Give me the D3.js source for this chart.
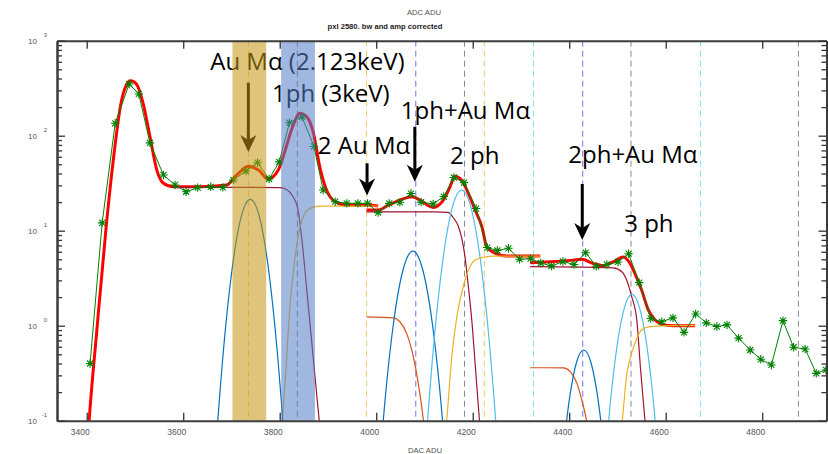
<!DOCTYPE html>
<html>
<head>
<meta charset="utf-8">
<script src="https://cdn.jsdelivr.net/npm/d3@7"></script>
<style>
body { margin: 0; background: #fff; }
svg { display: block; }
</style>
</head>
<body>
<script>
// pxl 2580 spectrum, log counts vs DAC, with piecewise fit and components

// axis ticks
var dacTicks = [3400, 3600, 3800, 4000, 4200, 4400, 4600, 4800];
var decades = [-1, 0, 1, 2, 3];
var minorMult = [2, 3, 4, 5, 6, 7, 8, 9];

// measured points (green stars)
var dataDac = [3407, 3432, 3459, 3488, 3508, 3531, 3559, 3583, 3606, 3630,
    3657, 3682, 3704, 3730, 3754, 3778, 3799, 3820, 3846, 3871, 3890, 3915,
    3939, 3962, 3982, 4004, 4027, 4049, 4072, 4093, 4118, 4140, 4161, 4182,
    4207, 4230, 4251, 4274, 4297, 4320, 4341, 4363, 4387, 4410, 4434, 4456,
    4478, 4501, 4523, 4545, 4569, 4592, 4615, 4638, 4662, 4684, 4706, 4727,
    4751, 4775, 4797, 4819, 4843, 4865, 4889, 4912, 4932];
var dataCounts = [0.40, 12.1, 135, 350, 275, 84, 38.6, 30.3, 25.7, 28.4,
    29.0, 28.6, 34.2, 42.5, 52, 35, 53, 137, 158, 77, 26.8, 20.2,
    19.4, 19.4, 19.4, 15.5, 19.4, 19.9, 24.6, 20.0, 19.1, 22.9, 36.3, 32.1,
    17.1, 6.65, 6.19, 6.53, 5.01, 5.07, 4.57, 4.25, 4.74, 4.41, 5.87, 4.22,
    4.41, 4.69, 5.73, 2.84, 1.19, 1.10, 1.21, 0.85, 1.33, 1.07, 0.98, 1.02,
    0.74, 0.555, 0.443, 0.386, 1.13, 0.593, 0.568, 0.315, 0.342];

// total fit, three pieces (red)
var fit1 = [[3401, 0.05], [3405, 0.1], [3421, 0.9], [3441, 12], [3455, 55],
    [3471, 220], [3482, 340], [3491, 378], [3503, 350], [3517, 218],
    [3531, 98], [3545, 44], [3559, 31.6], [3580, 29], [3635, 29],
    [3690, 30.3], [3711, 38.6], [3735, 47.7], [3756, 43.5], [3776, 35],
    [3797, 43.5], [3807, 60], [3828, 129], [3841, 172], [3856, 158],
    [3870, 106], [3883, 47], [3897, 26.8], [3915, 20.2], [3939, 18.6],
    [3980, 18.6], [4004, 18.2]];
var fit2 = [[3980, 16.5], [4004, 16.5], [4025, 18.6], [4049, 21], [4074, 22.8],
    [4091, 21], [4118, 17.6], [4139, 21], [4153, 29], [4163, 37.5],
    [4177, 34], [4191, 24.7], [4205, 16.5], [4219, 11], [4229, 6.8],
    [4246, 5.8], [4270, 5.4], [4340, 5.4]];
var fit3 = [[4319, 4.6], [4360, 4.7], [4408, 4.9], [4426, 5.0], [4450, 4.5],
    [4471, 4.3], [4491, 4.7], [4512, 5.3], [4524, 4.7], [4536, 3.56],
    [4550, 2.37], [4564, 1.46], [4578, 1.15], [4592, 1.04], [4616, 1.0],
    [4661, 1.0]];

// gaussian components
var gAuMa = [[3664, 0.03], [3684, 0.6], [3699, 3.2], [3719, 13.3], [3739, 21.4],
    [3759, 13.3], [3779, 3.2], [3794, 0.6], [3814, 0.03]];
var g1phAuMa = [[4006, 0.03], [4021, 0.23], [4036, 1.08], [4056, 3.95],
    [4076, 6.1], [4096, 3.95], [4116, 1.08], [4131, 0.23], [4146, 0.03]];
var g2ph = [[4097, 0.021], [4107, 0.11], [4122, 0.91], [4137, 4.48],
    [4157, 17.1], [4177, 26.8], [4197, 17.1], [4217, 4.48], [4232, 0.91],
    [4247, 0.11], [4257, 0.021]];
var g2phAuMa = [[4385, 0.036], [4400, 0.164], [4415, 0.41], [4430, 0.555],
    [4445, 0.41], [4460, 0.164], [4475, 0.036]];
var g3ph = [[4475, 0.04], [4485, 0.15], [4500, 0.66], [4515, 1.59],
    [4530, 2.14], [4545, 1.59], [4560, 0.66], [4575, 0.15], [4585, 0.04]];

// step (erfc) components
var step1 = [[3575, 28.6], [3700, 28.6], [3800, 28.4], [3815, 27],
    [3826, 23.5], [3837, 17.5], [3846, 8], [3856, 2.4], [3866, 0.7],
    [3877, 0.18], [3882, 0.1], [3890, 0.04]];
var rise1 = [[3798, 0.05], [3805, 0.1], [3814.5, 0.47], [3821, 1.58],
    [3832, 5.3], [3842, 11], [3852, 15.2], [3863, 17.2], [3883, 18.1],
    [4004, 18.2]];
var step2 = [[3980, 15.8], [4120, 15.8], [4149, 15.6], [4160, 13.6],
    [4170, 11.2], [4178, 8.0], [4184, 5.3], [4191, 2.57], [4198, 1.15],
    [4206, 0.34], [4214, 0.1], [4219, 0.05]];
var small2 = [[3980, 1.24], [4035, 1.21], [4049, 1.1], [4063, 0.83],
    [4077, 0.47], [4087, 0.25], [4098, 0.1], [4105, 0.05]];
var rise2 = [[4140, 0.05], [4146, 0.1], [4156.5, 0.47], [4167, 1.24],
    [4184, 3.03], [4204, 4.9], [4222, 5.25], [4243, 5.4], [4340, 5.4]];
var step3 = [[4319, 4.18], [4491, 4.07], [4509, 3.7], [4519, 3.03],
    [4529.5, 2.02], [4540, 1.15], [4548, 0.34], [4557, 0.1], [4563, 0.05]];
var small3 = [[4319, 0.361], [4388, 0.36], [4402, 0.328], [4416, 0.247],
    [4426, 0.165], [4436, 0.1], [4445, 0.05]];
var rise3 = [[4504, 0.05], [4510, 0.1], [4519, 0.3], [4526, 0.45],
    [4536, 0.65], [4550, 0.9], [4567, 0.98], [4616, 1.0], [4661, 1.0]];

// dashed peak markers
var markerDac = [3735, 3836.5, 3980, 4082, 4183, 4224, 4326, 4428, 4528,
    4672, 4875];
var markerKind = ["y", "k", "y", "b", "k", "y", "c", "b", "k", "c", "k"];

// shaded energy windows
var bandDac = [[3702, 3772], [3803, 3873]];

// annotations
var noteText = ["Au M\u03b1 (2.123keV)", "1ph (3keV)", "2 Au M\u03b1",
    "1ph+Au M\u03b1", "2 ph", "2ph+Au M\u03b1", "3 ph"];
var noteDac = [3656, 3784, 3879, 4051, 4153, 4398, 4514];
var noteVal = [491, 226, 64.2, 150, 50.4, 51.6, 9.69];
var arrowDac = [3735, 3981, 4080, 4427];
var arrowTop = [361, 51.2, 124, 31];
var arrowTip = [67.3, 23.5, 32.8, 7.98];

var W = 828, H = 454;
var L = 57, R = 826.5, T = 40.7, B = 420.7;

var x = d3.scaleLinear().domain([3338.4, 4933.2]).range([L, R]);
var y = d3.scaleLog().domain([0.1, 1000]).range([B, T]);

var svg = d3.select("body").append("svg")
    .attr("width", W)
    .attr("height", H);
svg.append("rect").attr("width", W).attr("height", H).attr("fill", "#fff");

svg.append("clipPath").attr("id", "plotclip")
    .append("rect")
    .attr("x", L).attr("y", T)
    .attr("width", R - L).attr("height", B - T);

var plot = svg.append("g").attr("clip-path", "url(#plotclip)");

var kindColor = {y: "#f2c766", k: "#8a8a8a", b: "#7272f2", c: "#78e6f0"};
plot.selectAll(".marker")
    .data(markerDac)
    .enter().append("line")
    .attr("x1", function(d) { return x(d); })
    .attr("x2", function(d) { return x(d); })
    .attr("y1", T)
    .attr("y2", B)
    .attr("stroke", function(d, i) { return kindColor[markerKind[i]]; })
    .attr("stroke-width", 1)
    .attr("stroke-dasharray", "6,4");

var line = d3.line()
    .x(function(d) { return x(d[0]); })
    .y(function(d) { return y(d[1]); })
    .curve(d3.curveMonotoneX);

[fit1, fit2, fit3].forEach(function(f) {
    plot.append("path")
        .attr("d", line(f))
        .attr("fill", "none")
        .attr("stroke", "#ff0000")
        .attr("stroke-width", 3);
});

var comps = [
    [step1, "#A2142F"], [rise1, "#EDB120"], [gAuMa, "#0072BD"],
    [step2, "#A2142F"], [small2, "#D95319"], [g1phAuMa, "#0072BD"],
    [g2ph, "#4DBEEE"], [rise2, "#EDB120"],
    [step3, "#A2142F"], [small3, "#D95319"], [g2phAuMa, "#0072BD"],
    [g3ph, "#4DBEEE"], [rise3, "#EDB120"]
];
comps.forEach(function(c) {
    plot.append("path")
        .attr("d", line(c[0]))
        .attr("fill", "none")
        .attr("stroke", c[1])
        .attr("stroke-width", 1.2);
});

// data
var pts = dataDac.map(function(d, i) { return [d, dataCounts[i]]; });
plot.append("path")
    .attr("d", d3.line()
        .x(function(d) { return x(d[0]); })
        .y(function(d) { return y(d[1]); })(pts))
    .attr("fill", "none")
    .attr("stroke", "#008000")
    .attr("stroke-width", 1);
plot.selectAll(".star")
    .data(pts)
    .enter().append("path")
    .attr("transform", function(d) {
        return "translate(" + x(d[0]) + "," + y(d[1]) + ")";
    })
    .attr("d", "M-4.2,0H4.2M0,-4.2V4.2M-3,-3L3,3M-3,3L3,-3")
    .attr("stroke", "#008000")
    .attr("stroke-width", 1.1)
    .attr("fill", "none");

// arrows
arrowDac.forEach(function(d, i) {
    var ax = x(d), y0 = y(arrowTop[i]), y1 = y(arrowTip[i]);
    svg.append("line")
        .attr("x1", ax).attr("x2", ax)
        .attr("y1", y0).attr("y2", y1 - 12)
        .attr("stroke", "#000")
        .attr("stroke-width", 3);
    svg.append("path")
        .attr("d", "M" + (ax - 8) + "," + (y1 - 17) + "L" + ax + "," + (y1 - 12) +
            "L" + (ax + 8) + "," + (y1 - 17) + "L" + ax + "," + y1 + "Z")
        .attr("fill", "#000");
});

// labels
svg.selectAll(".note")
    .data(noteText)
    .enter().append("text")
    .attr("x", function(d, i) { return x(noteDac[i]); })
    .attr("y", function(d, i) { return y(noteVal[i]); })
    .attr("font-family", "'Open Sans', sans-serif")
    .attr("font-size", 24)
    .attr("fill", "#000")
    .text(function(d) { return d; });

// shaded windows, drawn over everything like in the original
var bandFill = ["rgb(195,150,15)", "rgb(82,126,199)"];
svg.selectAll(".band")
    .data(bandDac)
    .enter().append("rect")
    .attr("x", function(d) { return x(d[0]); })
    .attr("width", function(d) { return x(d[1]) - x(d[0]); })
    .attr("y", T)
    .attr("height", B - T)
    .attr("fill", function(d, i) { return bandFill[i]; })
    .attr("opacity", 0.55);

// axes
var minorVals = [];
decades.slice(0, 4).forEach(function(k) {
    minorMult.forEach(function(m) { minorVals.push(m * Math.pow(10, k)); });
});
var majorVals = decades.map(function(k) { return Math.pow(10, k); });

function styleAxis(g) {
    g.select(".domain").attr("stroke", "#3c3c3c").attr("stroke-width", 2);
    g.selectAll(".tick line").attr("stroke", "#333").attr("stroke-width", 1.3);
}

svg.append("g")
    .attr("transform", "translate(0," + B + ")")
    .call(d3.axisBottom(x).tickValues(dacTicks).tickSize(-8).tickPadding(8)
        .tickSizeOuter(0).tickFormat(d3.format("d")))
    .call(styleAxis)
    .call(function(g) {
        g.selectAll("text")
            .attr("dx", -7)
            .attr("fill", "#555")
            .attr("font-family", "'Liberation Sans', Arial, sans-serif")
            .attr("font-size", 8.5);
    });

svg.append("g")
    .attr("transform", "translate(0," + T + ")")
    .call(d3.axisTop(x).tickValues(dacTicks).tickSize(-8).tickFormat("")
        .tickSizeOuter(0))
    .call(styleAxis);

[[L, d3.axisLeft], [R, d3.axisRight]].forEach(function(a) {
    svg.append("g")
        .attr("transform", "translate(" + a[0] + ",0)")
        .call(a[1](y).tickValues(minorVals).tickSize(-5).tickFormat("")
            .tickSizeOuter(0))
        .call(styleAxis);
    svg.append("g")
        .attr("transform", "translate(" + a[0] + ",0)")
        .call(a[1](y).tickValues(majorVals).tickSize(-8).tickFormat("")
            .tickSizeOuter(0))
        .call(styleAxis);
});

var ylab = svg.append("g")
    .attr("font-family", "'Liberation Sans', Arial, sans-serif")
    .attr("fill", "#555");
decades.forEach(function(k) {
    ylab.append("text")
        .attr("x", 37)
        .attr("y", y(Math.pow(10, k)) + 3)
        .attr("text-anchor", "end")
        .attr("font-size", 8)
        .text("10");
    ylab.append("text")
        .attr("x", 47)
        .attr("y", y(Math.pow(10, k)) - 4)
        .attr("text-anchor", "end")
        .attr("font-size", 6)
        .text(k);
});

// titles
svg.append("text")
    .attr("x", 424).attr("y", 14.5)
    .attr("text-anchor", "middle")
    .attr("font-family", "'Liberation Sans', Arial, sans-serif")
    .attr("font-size", 7.7)
    .attr("fill", "#555")
    .text("ADC ADU");
svg.append("text")
    .attr("x", 385).attr("y", 29)
    .attr("text-anchor", "middle")
    .attr("font-family", "'Liberation Sans', Arial, sans-serif")
    .attr("font-size", 7.6)
    .attr("font-weight", "bold")
    .attr("fill", "#222")
    .text("pxl 2580. bw and amp corrected");
svg.append("text")
    .attr("x", 425).attr("y", 453)
    .attr("text-anchor", "middle")
    .attr("font-family", "'Liberation Sans', Arial, sans-serif")
    .attr("font-size", 7.7)
    .attr("fill", "#555")
    .text("DAC ADU");
</script>
</body>
</html>
